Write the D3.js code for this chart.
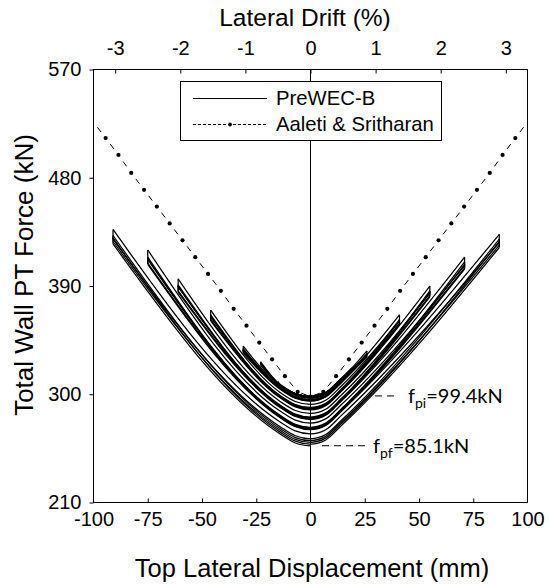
<!DOCTYPE html>
<html><head><meta charset="utf-8">
<script src="https://cdn.jsdelivr.net/npm/d3@7/dist/d3.min.js"></script>
<style>body{margin:0;background:#fff}</style>
</head><body>
<svg id="chart" width="550" height="585"></svg>
<script>
// ---------------- data ----------------
const dispTicks  = [-100, -75, -50, -25, 0, 25, 50, 75, 100];
const driftTicks = [-3, -2, -1, 0, 1, 2, 3];
const forceTicks = [210, 300, 390, 480, 570];
const mmPerDriftPercent = 30;

// Aaleti & Sritharan (analytical), dots at every point
const aaletiDisp  = [-100.3,-94.4,-88.5,-82.6,-76.7,-70.8,-64.9,-59,-53.1,-47.2,-41.3,-35.4,-29.5,-23.6,-17.7,-11.8,-5.9,0,
                     5.9,11.8,17.7,23.6,29.5,35.4,41.3,47.2,53.1,59,64.9,70.8,76.7,82.6,88.5,94.4,100.3];
const aaletiForce = [527,513,499,484,470,456,442,428,414,400,386,371,357,343,329,315,302,298,
                     302,315,329,343,357,371,386,400,414,428,442,456,470,484,499,513,527];

// PreWEC-B cyclic test: peaks in loading order
const peakDisp  = [6,-8,6,-8, 12,-15,12,-15, 19,-23,19,-23,
                   26,-31,26,-31,26,-31, 41,-46,41,-46,41,-46, 55,-61,55,-61,55,-61,
                   71,-75,71,-75,71,-75, 87,-91,87,-91,87,-91];
const peakForce = [301,301.5,301,301.5, 308,310.5,307.5,310, 322,327,321,326,
                   336,340,334,338,333,337, 366,370,362,366,361,365, 390,396,386,391,385,390,
                   414,420,410,414,408,413, 433,437,429,432,427,430];
const peakForceAfterDrop = [300.5,301,300.5,301, 307,309.5,307,309, 320,325,319.5,324,
                   333,336,332,335,331,334, 361,364,359,362,358,361, 384,389,382,386,381,385,
                   407,412,405,409,404,408, 426,429,424,427,422,425];
// force when the wall passes zero displacement (start, then after every peak)
const zeroForce = [298, 298,298,298,298, 298,298,298,298, 297.8,297.5,297.3,297,
                   296.5,295.5,295.2,294.8,294.5,294.2, 291.5,289,288.5,287.8,287.5,287,
                   284,281,280.5,280,279.5,279, 276,272.5,272,271.5,271,270.5,
                   267,263,261.5,260,258.5,257];
// rounded bottom of each loop: rise above zero-displacement force
const kneeDisp    = [7, 14];
const kneeRisePos = [3.5, 15];
const kneeRiseNeg = [2.5, 10];

// ---------------- layout ----------------
const svg = d3.select('#chart');
const X0 = 93.5, X1 = 527.5, Y0 = 69.5, Y1 = 502.5;
const x = d3.scaleLinear().domain([-100, 100]).range([X0, X1]);
const xTop = d3.scaleLinear().domain([-100 / mmPerDriftPercent, 100 / mmPerDriftPercent]).range([X0, X1]);
const y = d3.scaleLinear().domain([210, 570]).range([Y1, Y0]);
const FONT = "'Liberation Sans', Arial, sans-serif";
const plain = d => String(d);

svg.append('defs').append('clipPath').attr('id', 'clip')
  .append('rect').attr('x', X0).attr('y', Y0).attr('width', X1 - X0).attr('height', Y1 - Y0);

// axes
const gB = svg.append('g').attr('transform', `translate(0,${Y1})`)
  .call(d3.axisBottom(x).tickValues(dispTicks).tickFormat(plain).tickSizeInner(-4).tickSizeOuter(0).tickPadding(9));
const gT = svg.append('g').attr('transform', `translate(0,${Y0})`)
  .call(d3.axisTop(xTop).tickValues(driftTicks).tickFormat(plain).tickSizeInner(-4).tickSizeOuter(0).tickPadding(15));
const gL = svg.append('g').attr('transform', `translate(${X0},0)`)
  .call(d3.axisLeft(y).tickValues(forceTicks).tickFormat(plain).tickSizeInner(4).tickSizeOuter(0).tickPadding(8));
[gB, gT, gL].forEach(g => {
  g.select('.domain').remove();
  g.selectAll('line').attr('stroke', '#000');
  g.selectAll('text').attr('font-family', FONT).attr('font-size', 20).attr('fill', '#000');
});
gB.selectAll('.tick').filter(d => d === -100 || d === 100 || d === 0).select('line').remove();

// frame and zero line
svg.append('rect').attr('x', X0).attr('y', Y0).attr('width', X1 - X0).attr('height', Y1 - Y0)
  .attr('fill', 'none').attr('stroke', '#000').attr('stroke-width', 1);
svg.append('line').attr('x1', x(0)).attr('x2', x(0)).attr('y1', Y0).attr('y2', Y1).attr('stroke', '#000');

// ---------------- PreWEC-B hysteresis ----------------
const plot = svg.append('g').attr('clip-path', 'url(#clip)');
const line = d3.line().x(d => x(d[0])).y(d => y(d[1])).curve(d3.curveMonotoneX);
function knees(peak, base) {
  const pts = [];
  kneeDisp.forEach((k, j) => {
    if (Math.abs(peak) > k + 0.5) {
      pts.push(peak > 0 ? [k, base + kneeRisePos[j]] : [-k, base + kneeRiseNeg[j]]);
    }
  });
  return pts;
}
const sweeps = [];
for (let i = 0; i < zeroForce.length; i++) {
  const b = zeroForce[i];
  let pts = [[0, b]];
  if (i > 0) { pts.push([peakDisp[i - 1], peakForceAfterDrop[i - 1]]); pts = pts.concat(knees(peakDisp[i - 1], b)); }
  if (i < peakDisp.length) { pts.push([peakDisp[i], peakForce[i]]); pts = pts.concat(knees(peakDisp[i], b)); }
  pts.sort((a, c) => a[0] - c[0]);
  sweeps.push(pts);
}
plot.selectAll('path.sweep').data(sweeps).join('path').attr('class', 'sweep')
  .attr('d', line).attr('fill', 'none').attr('stroke', '#000').attr('stroke-width', 1.25);
plot.selectAll('line.drop').data(peakDisp.map((d, i) => i)).join('line').attr('class', 'drop')
  .attr('x1', i => x(peakDisp[i])).attr('x2', i => x(peakDisp[i]))
  .attr('y1', i => y(peakForce[i])).attr('y2', i => y(peakForceAfterDrop[i]))
  .attr('stroke', '#000').attr('stroke-width', 1.25);

// ---------------- Aaleti & Sritharan ----------------
const aPts = aaletiDisp.map((d, i) => [d, aaletiForce[i]]);
const segs = d3.pairs(aPts);
plot.selectAll('line.aseg').data(segs).join('line').attr('class', 'aseg')
  .attr('x1', s => x(s[0][0])).attr('y1', s => y(s[0][1]))
  .attr('x2', s => x(s[1][0])).attr('y2', s => y(s[1][1]))
  .attr('stroke', '#000').attr('stroke-width', 1)
  .attr('stroke-dasharray', s => {
    const L = Math.hypot(x(s[1][0]) - x(s[0][0]), y(s[1][1]) - y(s[0][1]));
    return `0,${(L - 6) / 2},6,${(L - 6) / 2}`;
  });
plot.selectAll('circle.adot').data(aPts.filter(d => Math.abs(d[0]) <= 100)).join('circle').attr('class', 'adot')
  .attr('cx', d => x(d[0])).attr('cy', d => y(d[1])).attr('r', 2.1).attr('fill', '#000');

// ---------------- annotations ----------------
const ANN = "Lato, 'Open Sans', sans-serif";
svg.append('line').attr('x1', 375).attr('x2', 399).attr('y1', y(298.6)).attr('y2', y(298.6))
  .attr('stroke', '#000').attr('stroke-dasharray', '7,5');
svg.append('line').attr('x1', 322).attr('x2', 368).attr('y1', y(257.2)).attr('y2', y(257.2))
  .attr('stroke', '#000').attr('stroke-dasharray', '7,5');
function ann(xp, yp, sub, rest) {
  const t = svg.append('text').attr('x', xp).attr('y', yp).attr('font-family', ANN).attr('font-size', 20).attr('fill', '#000');
  t.append('tspan').text('f');
  t.append('tspan').attr('font-size', 14).attr('dy', 5).text(sub);
  t.append('tspan').attr('dy', -5).text(rest);
}
ann(408, y(298.6) + 7, 'pi', '=99.4kN');
ann(373, y(257.2) + 7, 'pf', '=85.1kN');

// ---------------- legend ----------------
const lg = svg.append('g');
lg.append('rect').attr('x', 180.5).attr('y', 81.5).attr('width', 261).attr('height', 59)
  .attr('fill', '#fff').attr('stroke', '#000');
lg.append('line').attr('x1', 193).attr('x2', 267).attr('y1', 98.5).attr('y2', 98.5).attr('stroke', '#000');
lg.append('line').attr('x1', 193).attr('x2', 267).attr('y1', 124.5).attr('y2', 124.5)
  .attr('stroke', '#000').attr('stroke-dasharray', '3,2');
lg.append('circle').attr('cx', 230).attr('cy', 124.5).attr('r', 1.9).attr('fill', '#000');
lg.append('text').attr('x', 276).attr('y', 105).attr('font-family', FONT).attr('font-size', 20.3).text('PreWEC-B');
lg.append('text').attr('x', 276).attr('y', 131).attr('font-family', FONT).attr('font-size', 20.3).text('Aaleti & Sritharan');

// ---------------- titles ----------------
svg.append('text').attr('x', 305).attr('y', 26).attr('text-anchor', 'middle')
  .attr('font-family', FONT).attr('font-size', 24.5).text('Lateral Drift (%)');
svg.append('text').attr('x', 312).attr('y', 577).attr('text-anchor', 'middle')
  .attr('font-family', FONT).attr('font-size', 25.5).text('Top Lateral Displacement (mm)');
svg.append('text').attr('transform', 'translate(33,275) rotate(-90)').attr('text-anchor', 'middle')
  .attr('font-family', FONT).attr('font-size', 26).text('Total Wall PT Force (kN)');
</script>
</body></html>
